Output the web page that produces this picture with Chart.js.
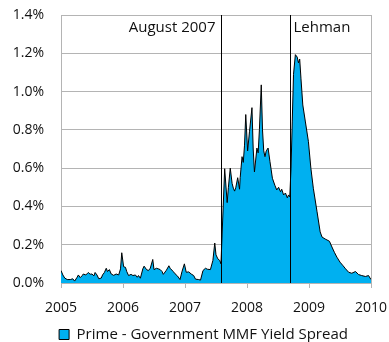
<!DOCTYPE html>
<html>
<head>
<meta charset="utf-8">
<script src="https://cdn.jsdelivr.net/npm/chart.js@4"></script>
<style>
  body { margin: 0; background: #fff; }
</style>
</head>
<body>
<canvas id="myChart" width="389" height="342"></canvas>
<script>
// weekly-ish readings, decimal years
var dates = [
  2005.00, 2005.03, 2005.06, 2005.10, 2005.15, 2005.19, 2005.22, 2005.26, 2005.28, 2005.31,
  2005.34, 2005.36, 2005.40, 2005.44, 2005.47, 2005.50, 2005.53, 2005.55, 2005.58, 2005.61,
  2005.65, 2005.67, 2005.70, 2005.73, 2005.75, 2005.78, 2005.81, 2005.85, 2005.89, 2005.93,
  2005.96, 2005.98, 2006.01, 2006.04, 2006.06, 2006.09, 2006.13, 2006.16, 2006.20, 2006.23,
  2006.25, 2006.28, 2006.32, 2006.34, 2006.38, 2006.41, 2006.44, 2006.48, 2006.50, 2006.54,
  2006.57, 2006.60, 2006.63, 2006.65, 2006.70, 2006.74, 2006.76, 2006.81, 2006.84, 2006.88,
  2006.92, 2006.95, 2006.99, 2007.02, 2007.06, 2007.10, 2007.14, 2007.17, 2007.22, 2007.25,
  2007.29, 2007.33, 2007.36, 2007.41, 2007.45, 2007.48, 2007.50, 2007.53, 2007.56, 2007.58,
  2007.61, 2007.64, 2007.68, 2007.70, 2007.73, 2007.76, 2007.78, 2007.80, 2007.82, 2007.85,
  2007.88, 2007.89, 2007.92, 2007.94, 2007.96, 2007.98, 2008.01, 2008.04, 2008.08, 2008.10,
  2008.12, 2008.16, 2008.18, 2008.20, 2008.23, 2008.25, 2008.27, 2008.29, 2008.31, 2008.34,
  2008.37, 2008.41, 2008.45, 2008.48, 2008.51, 2008.54, 2008.56, 2008.59, 2008.62, 2008.65,
  2008.67, 2008.69, 2008.71, 2008.73, 2008.75, 2008.78, 2008.81, 2008.83, 2008.85, 2008.87,
  2008.90, 2008.94, 2008.99, 2009.03, 2009.07, 2009.13, 2009.18, 2009.21, 2009.26, 2009.29,
  2009.33, 2009.37, 2009.41, 2009.45, 2009.50, 2009.55, 2009.59, 2009.64, 2009.69, 2009.75,
  2009.80, 2009.85, 2009.91, 2009.96, 2010.00
];
// prime minus government money market fund yield, in percent
var spread = [
  0.065, 0.042, 0.026, 0.018, 0.018, 0.022, 0.010, 0.030, 0.042, 0.028,
  0.038, 0.047, 0.042, 0.055, 0.046, 0.047, 0.037, 0.055, 0.042, 0.022,
  0.026, 0.042, 0.055, 0.077, 0.060, 0.070, 0.047, 0.040, 0.047, 0.042,
  0.074, 0.158, 0.085, 0.082, 0.060, 0.039, 0.045, 0.039, 0.042, 0.030,
  0.039, 0.025, 0.074, 0.088, 0.070, 0.065, 0.077, 0.123, 0.070, 0.077,
  0.074, 0.070, 0.060, 0.045, 0.067, 0.090, 0.077, 0.060, 0.048, 0.036,
  0.018, 0.058, 0.100, 0.056, 0.058, 0.047, 0.039, 0.020, 0.018, 0.015,
  0.065, 0.077, 0.072, 0.070, 0.118, 0.209, 0.147, 0.126, 0.118, 0.100,
  0.350, 0.597, 0.420, 0.500, 0.600, 0.520, 0.495, 0.480, 0.500, 0.550,
  0.490, 0.550, 0.660, 0.630, 0.720, 0.880, 0.690, 0.790, 0.916, 0.700,
  0.580, 0.705, 0.680, 0.800, 1.035, 0.800, 0.690, 0.660, 0.690, 0.705,
  0.635, 0.547, 0.510, 0.486, 0.500, 0.477, 0.490, 0.460, 0.470, 0.445,
  0.460, 0.450, 0.600, 0.846, 1.090, 1.193, 1.180, 1.150, 1.170, 1.070,
  0.930, 0.846, 0.740, 0.600, 0.495, 0.372, 0.267, 0.240, 0.230, 0.225,
  0.218, 0.188, 0.160, 0.135, 0.109, 0.090, 0.074, 0.056, 0.051, 0.060,
  0.044, 0.039, 0.034, 0.039, 0.018
];
var yearTicks = [2005, 2006, 2007, 2008, 2009, 2010];
var eventDates = [2007.58, 2008.69];
var eventLabels = ['August 2007', 'Lehman'];

var points = dates.map(function(d, i){ return {x: d, y: spread[i]}; });
var gridGray = '#b4b4b4';
var fontFam = '"Open Sans", sans-serif';

var eventLines = {
  id: 'eventLines',
  afterLayout: function(chart){
    // nudge legend so it sits under the plot, like the original
    chart.legend.left = 36;
    chart.legend.top += 10;
    chart.legend.bottom += 10;
  },
  afterDatasetsDraw: function(chart){
    var ctx = chart.ctx, xs = chart.scales.x, area = chart.chartArea;
    ctx.save();
    ctx.font = '15px ' + fontFam;
    ctx.fillStyle = '#111';
    ctx.textBaseline = 'middle';
    for (var i = 0; i < eventDates.length; i++) {
      var px = Math.round(xs.getPixelForValue(eventDates[i])) + 0.5;
      ctx.strokeStyle = '#000';
      ctx.lineWidth = 1;
      ctx.beginPath();
      ctx.moveTo(px, area.top);
      ctx.lineTo(px, area.bottom);
      ctx.stroke();
      if (i === 0) {
        ctx.textAlign = 'right';
        ctx.fillText(eventLabels[i], px - 6, area.top + 13);
      } else {
        ctx.textAlign = 'left';
        ctx.fillText(eventLabels[i], px + 3, area.top + 13);
      }
    }
    ctx.restore();
  }
};

const ctx = document.getElementById('myChart').getContext('2d');
const myChart = new Chart(ctx, {
  type: 'line',
  data: {
    datasets: [{
      label: 'Prime - Government MMF Yield Spread',
      data: points,
      fill: 'origin',
      backgroundColor: '#00b0f0',
      borderColor: '#000',
      borderWidth: 1,
      pointRadius: 0,
      tension: 0
    }]
  },
  options: {
    responsive: false,
    animation: false,
    layout: { padding: { left: 0, right: 18, top: 15, bottom: 0 } },
    plugins: {
      legend: {
        position: 'bottom',
        labels: {
          boxWidth: 10,
          boxHeight: 10,
          padding: 1,
          color: '#111',
          font: { family: fontFam, size: 15 }
        }
      },
      tooltip: { enabled: false }
    },
    scales: {
      x: {
        type: 'linear',
        min: 2005,
        max: 2010,
        afterBuildTicks: function(s){ s.ticks = yearTicks.map(function(v){ return {value: v}; }); },
        afterFit: function(s){ s.height = 33; s.paddingLeft = 0; s.paddingRight = 0; },
        ticks: {
          padding: 12,
          color: '#111',
          font: { family: fontFam, size: 14 },
          callback: function(v){ return String(v); }
        },
        grid: {
          color: function(c){ return (c.tick && c.tick.value === 2010) ? gridGray : 'rgba(0,0,0,0)'; },
          tickColor: gridGray,
          tickLength: 5
        },
        border: { color: gridGray }
      },
      y: {
        min: 0,
        max: 1.4,
        afterFit: function(s){ s.width = 61; s.paddingTop = 0; s.paddingBottom = 0; },
        ticks: {
          stepSize: 0.2,
          padding: 17,
          color: '#111',
          font: { family: fontFam, size: 14 },
          callback: function(v){ return v.toFixed(1) + '%'; }
        },
        grid: { color: gridGray, drawTicks: false },
        border: { color: gridGray }
      }
    }
  },
  plugins: [eventLines]
});
</script>
</body>
</html>
